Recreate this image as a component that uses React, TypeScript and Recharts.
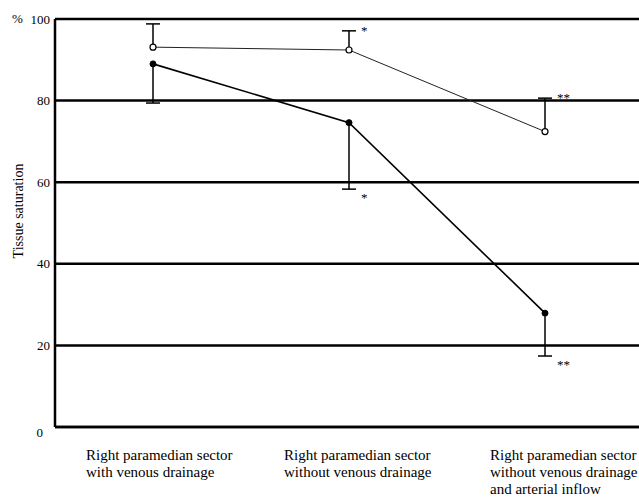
import React from "react";
import { LineChart, Line, XAxis, YAxis, CartesianGrid, ReferenceLine } from "recharts";

const categories: string[][] = [
  ["Right paramedian sector", "with venous drainage"],
  ["Right paramedian sector", "without venous drainage"],
  ["Right paramedian sector", "without venous drainage", "and arterial inflow"],
];
const openValues = [93.1, 92.4, 72.4];
const openUpper = [98.8, 97.1, 80.6];
const openMarks = ["", "*", "**"];
const filledValues = [89.0, 74.6, 27.9];
const filledLower = [79.4, 58.3, 17.4];
const filledMarks = ["", "*", "**"];
const yTicks = [0, 20, 40, 60, 80, 100];

const FONT = "'Liberation Serif', 'Times New Roman', serif";

const data = categories.map((_, i) => ({
  x: i + 0.5,
  open: openValues[i],
  filled: filledValues[i],
}));

const labelOffsets = [-67, -65, -55];

const XTick = (props: any) => {
  const { x, y, payload } = props;
  const idx = Math.floor(payload.value);
  const lines = categories[idx] || [];
  return (
    <g>
      {lines.map((t, k) => (
        <text
          key={k}
          x={x + labelOffsets[idx]}
          y={y + 33 + k * 17}
          textAnchor="start"
          fontFamily={FONT}
          fontSize={15}
          fill="#000"
        >
          {t}
        </text>
      ))}
    </g>
  );
};

const YTick = (props: any) => {
  const { x, y, payload } = props;
  const zero = payload.value === 0;
  return (
    <text
      x={x - (zero ? 7 : 0)}
      y={y + (zero ? 5 : 0)}
      dy="0.35em"
      textAnchor="end"
      fontFamily={FONT}
      fontSize={13}
      fill="#000"
    >
      {payload.value}
    </text>
  );
};

const YLabel = (props: any) => {
  const vb = props.viewBox || { x: 0, y: 19, width: 55, height: 408 };
  return (
    <g>
      <text x={vb.x + 12} y={vb.y + 4} fontFamily={FONT} fontSize={13} fill="#000">
        %
      </text>
      <text
        x={18}
        y={211}
        transform={`rotate(-90 18 211)`}
        textAnchor="middle"
        dominantBaseline="central"
        fontFamily={FONT}
        fontSize={14}
        fill="#000"
      >
        Tissue saturation
      </text>
    </g>
  );
};

const makeErr = (mark: string, upper: boolean, width: number) => (p: any) => {
  const { x1, y1, x2, y2 } = p;
  const s = Math.sign(y2 - y1);
  return (
    <g>
      <line x1={x1} y1={y1 + s * 3} x2={x2} y2={y2} stroke="#000" strokeWidth={width} />
      <line x1={x2 - 7} y1={y2} x2={x2 + 7} y2={y2} stroke="#000" strokeWidth={1.5} />
      {mark && (
        <text
          x={x2 + 12}
          y={upper ? y2 + 4 : y2 + 13}
          fontFamily={FONT}
          fontSize={13}
          fill="#000"
        >
          {mark}
        </text>
      )}
    </g>
  );
};

export default function App() {
  return (
    <div
      style={{
        position: "absolute",
        left: 0,
        top: 0,
        width: 639,
        height: 498,
        overflow: "hidden",
        background: "#fff",
      }}
    >
      <LineChart
        width={660}
        height={498}
        data={data}
        margin={{ top: 19, right: 17, bottom: 0, left: 0 }}
      >
        <CartesianGrid vertical={false} stroke="#000" strokeWidth={2.5} />
        <XAxis
          dataKey="x"
          type="number"
          domain={[0, 3]}
          ticks={[0.5, 1.5, 2.5]}
          height={71}
          tickSize={0}
          tickMargin={0}
          tickLine={false}
          axisLine={{ stroke: "#000", strokeWidth: 2.5 }}
          tick={<XTick />}
          interval={0}
        />
        <YAxis
          type="number"
          domain={[0, 100]}
          ticks={yTicks}
          width={55}
          tickSize={0}
          tickMargin={5}
          tickLine={false}
          axisLine={{ stroke: "#000", strokeWidth: 2.5 }}
          tick={<YTick />}
          interval={0}
          label={<YLabel />}
        />
        {data.map((d, i) => (
          <ReferenceLine
            key={"o" + i}
            segment={[
              { x: d.x, y: openValues[i] },
              { x: d.x, y: openUpper[i] },
            ]}
            shape={makeErr(openMarks[i], true, 1.5)}
          />
        ))}
        {data.map((d, i) => (
          <ReferenceLine
            key={"f" + i}
            segment={[
              { x: d.x, y: filledValues[i] },
              { x: d.x, y: filledLower[i] },
            ]}
            shape={makeErr(filledMarks[i], false, 1.5)}
          />
        ))}
        <Line
          type="linear"
          dataKey="open"
          stroke="#222"
          strokeWidth={1}
          dot={{ r: 3, fill: "#fff", stroke: "#000", strokeWidth: 1.2 }}
          isAnimationActive={false}
        />
        <Line
          type="linear"
          dataKey="filled"
          stroke="#000"
          strokeWidth={1.6}
          dot={{ r: 3, fill: "#000", stroke: "#000", strokeWidth: 1 }}
          isAnimationActive={false}
        />
      </LineChart>
    </div>
  );
}
